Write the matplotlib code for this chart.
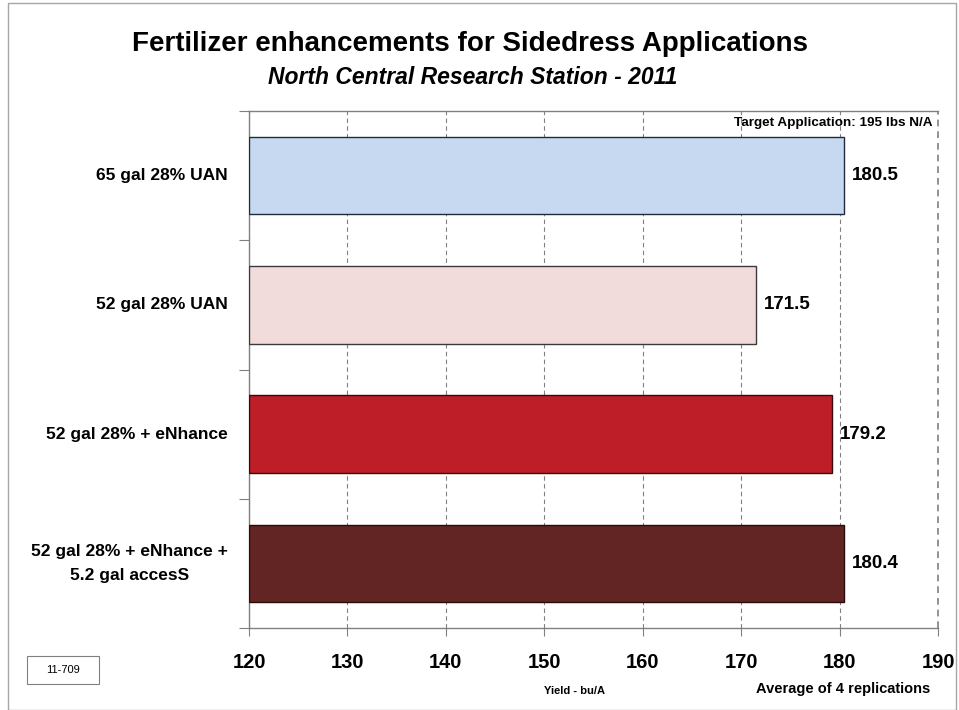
import matplotlib
matplotlib.use("Agg")
import matplotlib.pyplot as plt
from matplotlib.patches import Rectangle

plt.rcParams['font.family'] = ['Liberation Sans', 'DejaVu Sans']

trattamenti = ['65 gal 28% UAN', '52 gal 28% UAN', '52 gal 28% + eNhance',
               '52 gal 28% + eNhance +\n5.2 gal accesS']
resa = [180.5, 171.5, 179.2, 180.4]
colori = ['#C6D9F1', '#F2DCDB', '#BE1E28', '#632523']
bordi = ['#1F2A3A', '#3A3A3A', '#3A0A0A', '#2A0A0A']
xtick_valori = [120, 130, 140, 150, 160, 170, 180, 190]

fig = plt.figure(figsize=(9.59, 7.10), dpi=100)
ax = fig.add_axes([249/959, 1-628/710, (938-249)/959, (628-111)/710])

# cornice esterna
fig.patches.append(Rectangle((8/959, 0.0), (956-8)/959, 1-3/710, transform=fig.transFigure,
                             fill=False, edgecolor='#A6A6A6', linewidth=1.0))

y = list(range(len(trattamenti)))
ax.barh(y, [v - 120 for v in resa], left=120, height=0.6, color=colori,
        edgecolor=bordi, linewidth=1.0, zorder=3)

for yi, v in zip(y, resa):
    ax.text(v + 0.8, yi, f'{v:.1f}', ha='left', va='center', fontsize=13.5,
            fontweight='bold', zorder=4)

for yi, lab in zip(y, trattamenti):
    ax.text(-0.031, yi, lab, transform=ax.get_yaxis_transform(), ha='right', va='center',
            multialignment='center', fontsize=12.5, fontweight='bold', linespacing=1.75)

ax.set_xlim(120, 190)
ax.set_ylim(3.5, -0.5)
ax.set_xticks(xtick_valori)
ax.set_xticklabels([str(v) for v in xtick_valori], fontsize=14.5, fontweight='bold')
ax.tick_params(axis='x', direction='out', length=6, width=0.8, color='#808080', pad=12)
ax.set_yticks([-0.5, 0.5, 1.5, 2.5, 3.5])
ax.set_yticklabels([])
ax.tick_params(axis='y', direction='out', length=7, width=0.8, color='#808080')

ax.xaxis.grid(True, linestyle=(0, (4, 3)), color='#808080', linewidth=0.8, zorder=0)
ax.axvline(190, linestyle=(0, (4, 3)), color='#808080', linewidth=1.2, zorder=1, clip_on=False)
ax.set_axisbelow(True)
for s in ['left', 'bottom', 'top']:
    ax.spines[s].set_color('#808080')
    ax.spines[s].set_linewidth(1.0)
ax.spines['right'].set_visible(False)

ax.text(0.9915, 1-12/517, 'Target Application: 195 lbs N/A', transform=ax.transAxes,
        ha='right', va='center', fontsize=9.7, fontweight='bold')

fig.text(470/959, 1-44/710, 'Fertilizer enhancements for Sidedress Applications',
         ha='center', va='center', fontsize=20, fontweight='bold')
fig.text(473/959, 1-77/710, 'North Central Research Station - 2011',
         ha='center', va='center', fontsize=16.5, fontweight='bold', style='italic')

fig.text(575/959, 1-691/710, 'Yield - bu/A', ha='center', va='center', fontsize=8, fontweight='bold')
fig.text(930/959, 1-689/710, 'Average of 4 replications', ha='right', va='center',
         fontsize=10.5, fontweight='bold')

fig.patches.append(Rectangle((27/959, 1-684/710), 72/959, 28/710, transform=fig.transFigure,
                             fill=False, edgecolor='#808080', linewidth=0.8))
fig.text(63/959, 1-670/710, '11-709', ha='center', va='center', fontsize=8)

fig.savefig('out.png', dpi=100)
